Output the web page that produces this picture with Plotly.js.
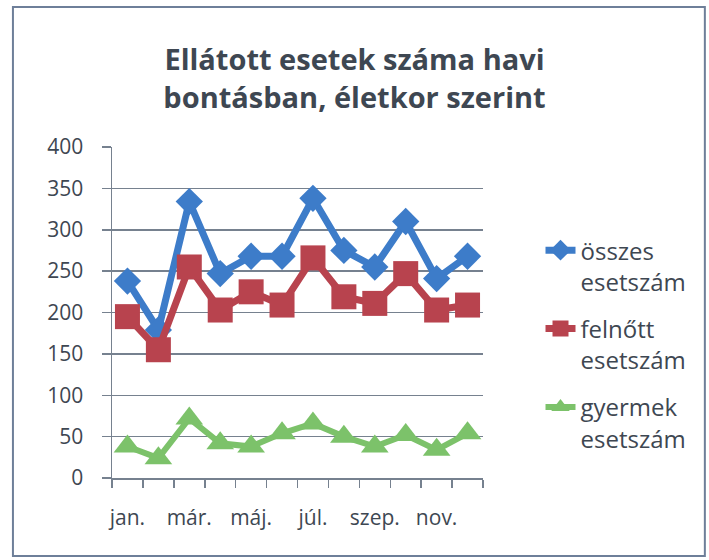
<!DOCTYPE html>
<html>
<head>
<meta charset="utf-8">
<script src="https://cdn.plot.ly/plotly-3.0.1.min.js"></script>
<style>html,body{margin:0;padding:0;background:#fff;}#chart{width:709px;height:560px;}</style>
</head>
<body>
<div id="chart"></div>
<script>
const months = ['jan.','febr.','már.','ápr.','máj.','jún.','júl.','aug.','szep.','okt.','nov.','dec.'];
const tickLabels = ['jan.','','már.','','máj.','','júl.','','szep.','','nov.',''];
const osszes = [238,179,334,247,268,268,338,275,255,310,241,268];
const felnott = [195,155,255,203,225,209,266,219,211,247,203,209];
const gyermek = [38,24,72,42,38,54,66,50,38,52,34,54];
const seriesNames = ['összes<br>esetszám','felnőtt<br>esetszám','gyermek<br>esetszám'];

const txt = '#3e4752';
const grid = '#76818f';
const traces = [
  {x: months, y: osszes, name: seriesNames[0], legendgroup: 'a', type: 'scatter', mode: 'lines+markers',
   line: {color: '#3d7cc9', width: 7}, marker: {symbol: 'diamond', size: 21, color: '#3d7cc9'}},
  {x: months, y: felnott, name: seriesNames[1], legendgroup: 'b', type: 'scatter', mode: 'lines+markers',
   line: {color: '#b8434e', width: 7}, marker: {symbol: 'square', size: 25, color: '#b8434e'}},
  {x: months, y: gyermek, name: seriesNames[2], legendgroup: 'c', type: 'scatter', mode: 'lines+markers',
   line: {color: '#7cc26a', width: 6}, marker: {symbol: 'triangle-up', size: 24, color: '#7cc26a'}}
];
const layout = {
  width: 709, height: 560,
  paper_bgcolor: '#ffffff', plot_bgcolor: '#ffffff',
  margin: {l: 112, r: 226, t: 147, b: 82, autoexpand: false},
  font: {family: '"Open Sans", sans-serif', color: txt},
  title: {text: 'Ellátott esetek száma havi<br>bontásban, életkor szerint',
          font: {size: 29, weight: 'bold', color: txt}, x: 0.5, xanchor: 'center',
          y: 1 - 70/560, yanchor: 'middle', yref: 'container'},
  xaxis: {type: 'category', tickson: 'boundaries', tickvals: months, ticktext: tickLabels,
          ticks: 'outside', ticklen: 8, tickcolor: grid, tickwidth: 1.5, tickangle: 0, automargin: false,
          showline: true, linecolor: grid, linewidth: 1.5, showgrid: false,
          tickfont: {size: 21, color: txt}, ticklabelstandoff: 20,
          range: [-0.5, 11.5], fixedrange: true},
  yaxis: {range: [0, 400], dtick: 50, ticks: 'outside', ticklen: 9, tickcolor: grid, tickwidth: 1.5, automargin: false,
          showline: true, linecolor: grid, linewidth: 1.5, showgrid: true, gridcolor: grid, gridwidth: 1.5,
          zeroline: false, tickfont: {size: 21, color: txt}, ticklabelstandoff: 14, fixedrange: true},
  showlegend: true,
  legend: {x: 1.155, xanchor: 'left', y: 0.755, yanchor: 'top', tracegroupgap: 13,
           valign: 'top', font: {size: 24, color: txt}, bgcolor: 'rgba(0,0,0,0)'},
  shapes: [{type: 'rect', xref: 'paper', yref: 'paper', x0: -0.267, x1: 1.598, y0: -0.236, y1: 1.423,
            line: {color: '#6e7f99', width: 2}, layer: 'below'}]
};
Plotly.newPlot('chart', traces, layout, {displayModeBar: false, staticPlot: true});
</script>
</body>
</html>
